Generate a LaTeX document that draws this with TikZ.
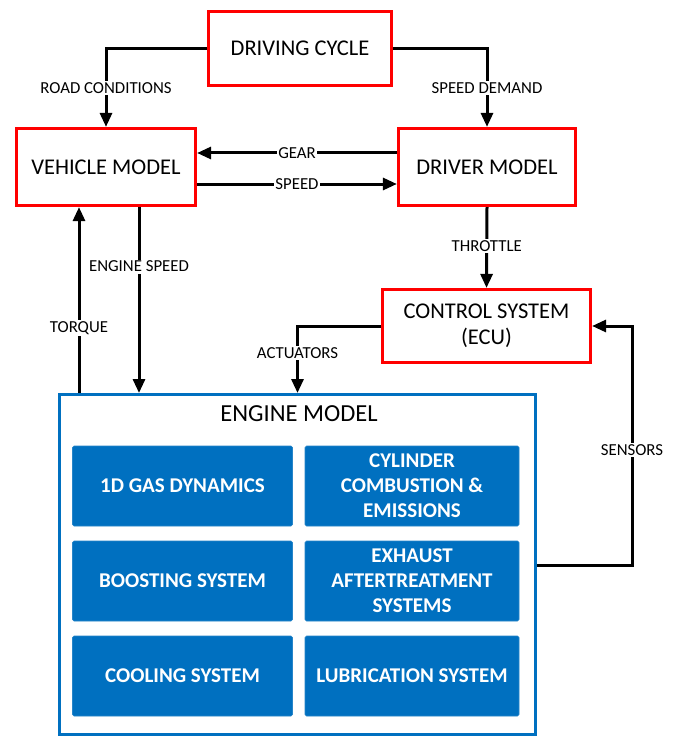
\documentclass[tikz,border=0pt]{standalone}
\usepackage{fontspec}
\setmainfont{Carlito}
\usetikzlibrary{arrows.meta}
\definecolor{redb}{HTML}{FF0000}
\definecolor{blueb}{HTML}{0070C0}
\begin{document}
\begin{tikzpicture}[x=1pt,y=-1pt,
  redbox/.style={draw=redb,line width=3.2pt,fill=white,inner sep=2pt,align=center,
    font=\fontsize{22.5}{26}\selectfont},
  engbox/.style={draw=blueb,line width=3pt,fill=white},
  subbox/.style={fill=blueb,draw=blueb!85!white,line width=0.6pt,rounded corners=1.5pt,
    minimum width=#1,minimum height=80,text=white,align=center,
    font=\fontsize{21}{25}\selectfont\bfseries},
  conn/.style={line width=3pt,-{Triangle[length=14pt,width=12pt]}},
  lbl/.style={fill=white,inner sep=1.5pt,font=\fontsize{16.8}{18}\selectfont}]
\useasboundingbox (0,0) rectangle (686,738);
% main blocks
\node[redbox,minimum width=183,minimum height=74] (dc) at (300,48.5) {DRIVING CYCLE};
\node[redbox,minimum width=179,minimum height=77] (vm) at (106,167) {VEHICLE MODEL};
\node[redbox,minimum width=177,minimum height=77] (dm) at (487,167) {DRIVER MODEL};
\node[redbox,minimum width=208,minimum height=73] (ecu) at (486.5,326) {CONTROL SYSTEM\\(ECU)};
\node[engbox,minimum width=476,minimum height=340] (eng) at (297.5,564.5) {};
\node[font=\fontsize{24.5}{28}\selectfont] (engt) at (299,414) {ENGINE MODEL};
% sub blocks
\node[subbox=220] (gas) at (182.5,486) {1D GAS DYNAMICS};
\node[subbox=214] (cyl) at (412,486) {CYLINDER\\COMBUSTION \&\\EMISSIONS};
\node[subbox=220] (boost) at (182.5,581) {BOOSTING SYSTEM};
\node[subbox=214] (exh) at (412,581) {EXHAUST\\AFTERTREATMENT\\SYSTEMS};
\node[subbox=220] (cool) at (182.5,676) {COOLING SYSTEM};
\node[subbox=214] (lub) at (412,676) {LUBRICATION SYSTEM};
% connectors
\draw[conn] (dc.west) -| node[lbl,pos=0.75] {ROAD CONDITIONS} (vm.north);
\draw[conn] (dc.east) -| node[lbl,pos=0.75] {SPEED DEMAND} (dm.north);
\draw[conn] ([yshift=14pt]dm.west) -- node[lbl] {GEAR} ([yshift=14pt]vm.east);
\draw[conn] ([yshift=-17pt]vm.east) -- node[lbl] {SPEED} ([yshift=-17pt]dm.west);
\draw[conn] (dm.south) -- node[lbl,pos=0.48] {THROTTLE} (ecu.north);
\draw[conn] (ecu.west) -| node[lbl,pos=0.7] {ACTUATORS} (eng.north);
\draw[conn] ([xshift=33pt]vm.south) -- node[lbl,pos=0.32] {ENGINE SPEED} ([xshift=33pt]vm.south |- eng.north);
\draw[conn] ([xshift=-27pt]vm.south |- eng.north) -- node[lbl,pos=0.35] {TORQUE} ([xshift=-27pt]vm.south);
\coordinate (sx) at (632,326);
\draw[conn] ([yshift=16pt]exh.center -| eng.east) -| node[lbl,pos=0.74] {SENSORS} (sx) -- (ecu.east);
\end{tikzpicture}
\end{document}
